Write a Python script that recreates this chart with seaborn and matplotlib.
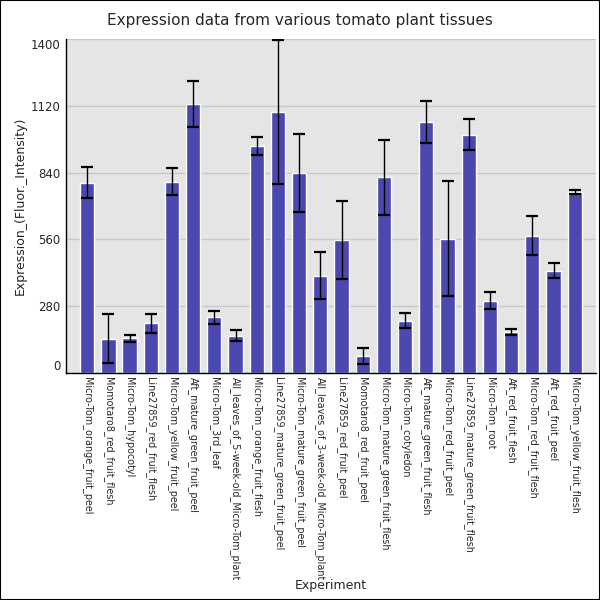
import matplotlib
matplotlib.use("Agg")
import matplotlib.pyplot as plt
import seaborn as sns
import pandas as pd
from matplotlib.patches import Rectangle

experiments = [
    "Micro-Tom_orange_fruit_peel", "Momotaro8_red_fruit_flesh", "Micro-Tom_hypocotyl",
    "Line27859_red_fruit_flesh", "Micro-Tom_yellow_fruit_peel", "Aft_mature_green_fruit_peel",
    "Micro-Tom_3rd_leaf", "All_leaves_of_5-week-old_Micro-Tom_plant", "Micro-Tom_orange_fruit_flesh",
    "Line27859_mature_green_fruit_peel", "Micro-Tom_mature_green_fruit_peel",
    "All_leaves_of_3-week-old_Micro-Tom_plant", "Line27859_red_fruit_peel", "Momotaro8_red_fruit_peel",
    "Micro-Tom_mature_green_fruit_flesh", "Micro-Tom_cotyledon", "Aft_mature_green_fruit_flesh",
    "Micro-Tom_red_fruit_peel", "Line27859_mature_green_fruit_flesh", "Micro-Tom_root",
    "Aft_red_fruit_flesh", "Micro-Tom_red_fruit_flesh", "Aft_red_fruit_peel", "Micro-Tom_yellow_fruit_flesh",
]
expression = [798, 143, 144, 207, 802, 1129, 232, 156, 953, 1095, 840, 408, 558, 71, 820, 218, 1053,
              562, 999, 302, 171, 576, 429, 760]
errors = [65, 102, 16, 39, 56, 96, 28, 22, 37, 302, 164, 100, 165, 33, 157, 31, 89, 241, 65, 36, 12, 82, 32, 9]
y_ticks = [0, 280, 560, 840, 1120, 1400]

df = pd.DataFrame({"Experiment": experiments, "Expression": expression})

sns.set_style("white")
plt.rcParams["font.family"] = ["DejaVu Sans"]

fig = plt.figure(figsize=(6, 6), dpi=100)
ax = fig.add_axes([0.11, 0.3788, 0.8833, 0.5557])
ax.set_facecolor("#e5e5e5")
ax.set_axisbelow(True)
ax.grid(True, color="#c8c8c8", linewidth=1)

sns.barplot(data=df, x="Experiment", y="Expression", color="#4b48b0", saturation=1,
            width=0.67, ax=ax, zorder=2)
ax.errorbar(range(len(experiments)), expression, yerr=errors, fmt="none", ecolor="black",
            elinewidth=1, capsize=4.5, capthick=1.6, zorder=3, clip_on=True)

ax.set_xlim(-1, len(experiments))
ax.set_ylim(0, 1400)
ax.set_yticks(y_ticks)
ax.set_yticklabels([str(v) for v in y_ticks], fontsize=8.5)
labs = ax.get_yticklabels()
labs[0].set_va("bottom")
labs[-1].set_va("top")
ax.tick_params(axis="both", length=0)
ax.tick_params(axis="y", pad=4)
ax.tick_params(axis="x", pad=3)
ax.set_xticks(range(len(experiments)))
ax.set_xticklabels(experiments, rotation=270, fontsize=6.9, va="top", ha="center")

for s in ["top", "right"]:
    ax.spines[s].set_visible(False)
for s in ["left", "bottom"]:
    ax.spines[s].set_visible(True)
    ax.spines[s].set_color("black")
    ax.spines[s].set_linewidth(1)

ax.set_xlabel("Experiment", fontsize=9)
ax.set_ylabel("Expression_(Fluor._Intensity)", fontsize=9, labelpad=3)
ax.xaxis.set_label_coords(0.5, -0.62)
fig.suptitle("Expression data from various tomato plant tissues", fontsize=11, y=0.978)

fig.patches.append(Rectangle((0, 0), 1, 1, transform=fig.transFigure, fill=False,
                             edgecolor="black", linewidth=1.5, zorder=10))
fig.savefig("out.png", dpi=100)
